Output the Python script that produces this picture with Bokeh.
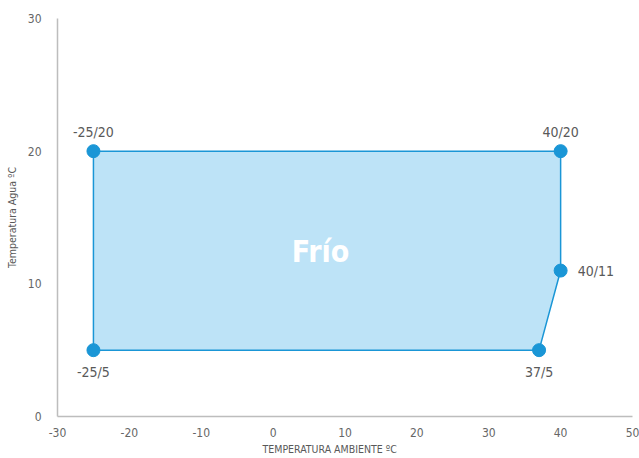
from bokeh.plotting import figure
from bokeh.models import ColumnDataSource, Range1d, FixedTicker, Title
from bokeh.core.properties import value
from bokeh.embed import file_html
from bokeh.resources import INLINE

# ---- data ----
amb_temp = [-25, 40, 40, 37, -25]
water_temp = [20, 20, 11, 5, 5]
point_labels = ["-25/20", "40/20", "40/11", "37/5", "-25/5"]
zone_name = "Frío"
zone_center = (6.6, 12.4)
x_ticks = [-30, -20, -10, 0, 10, 20, 30, 40, 50]
y_ticks = [0, 10, 20, 30]
x_title = "TEMPERATURA AMBIENTE ºC"
y_title = "Temperatura Agua ºC"

FONT = "'DejaVu Sans Condensed', 'Liberation Sans Narrow', sans-serif"
BLUE = "#1a96d6"
TXT = "#595959"

p = figure(width=639, height=458, output_backend="svg", toolbar_location=None,
           x_range=Range1d(-30, 50), y_range=Range1d(0, 30),
           min_border_left=57, min_border_top=18, min_border_right=7, min_border_bottom=42)
p.outline_line_color = None
p.grid.visible = False
p.background_fill_color = "white"

for ax in (p.xaxis[0], p.yaxis[0]):
    ax.major_tick_line_color = None
    ax.minor_tick_line_color = None
    ax.axis_line_color = "#bdbdbd"
    ax.axis_line_width = 1.5
    ax.major_label_text_font = FONT
    ax.major_label_text_font_size = "12px"
    ax.major_label_text_color = "#666666"
    ax.axis_label_text_font = FONT
    ax.axis_label_text_font_style = "normal"
    ax.axis_label_text_font_size = "10.5px"
    ax.axis_label_text_color = TXT

p.xaxis.ticker = FixedTicker(ticks=x_ticks)
p.yaxis.ticker = FixedTicker(ticks=y_ticks)
p.xaxis.major_label_overrides = {t: str(t) for t in x_ticks}
p.yaxis.major_label_overrides = {t: str(t) for t in y_ticks}
p.xaxis.major_label_standoff = 5
p.yaxis.major_label_standoff = 10
p.yaxis.axis_label = y_title
p.yaxis.axis_label_standoff = 7

# x-axis title as a below-title, placed slightly left of the frame centre
p.add_layout(Title(text=x_title, align="left", offset=205, standoff=3,
                   text_font=FONT, text_font_style="normal", text_font_size="10.5px",
                   text_color=TXT), "below")

p.patch(amb_temp, water_temp, fill_color="#bde3f7", line_color=BLUE, line_width=1.5)

# label placement (style): offsets per point
x_off = [0, 0, 17, 0, 0]
y_off = [-19, -19, 0, 22, 22]
align = ["center", "center", "left", "center", "center"]
src = ColumnDataSource(dict(x=amb_temp, y=water_temp, t=point_labels,
                            xo=x_off, yo=y_off, al=align))
p.scatter("x", "y", source=src, size=13, fill_color=BLUE, line_color=BLUE)
p.text("x", "y", text="t", source=src, x_offset="xo", y_offset="yo", text_align="al",
       text_baseline="middle", text_font=value(FONT), text_font_size="14px", text_color=TXT)

p.text([zone_center[0]], [zone_center[1]], text=[zone_name], text_align="center",
       text_baseline="middle", text_font=value(FONT), text_font_style="bold",
       text_font_size="30px", text_color="white")

open("out.html", "w").write(file_html(p, INLINE))
